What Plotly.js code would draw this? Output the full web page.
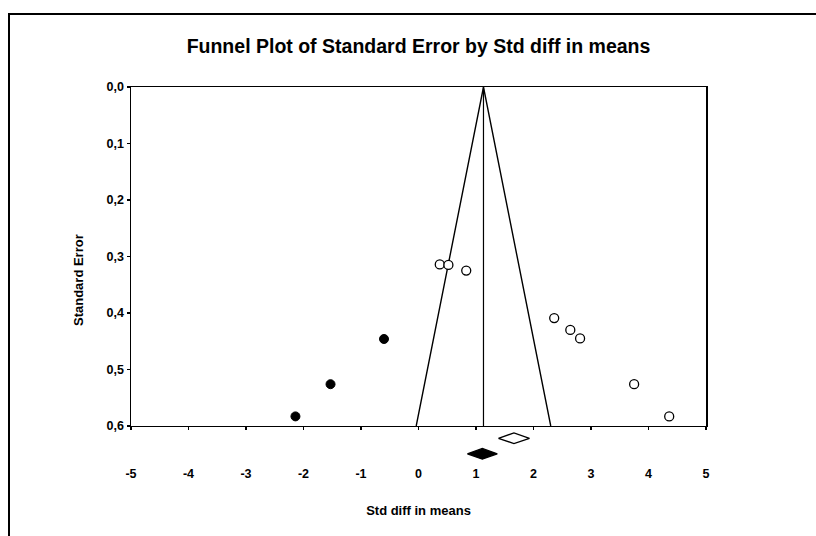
<!DOCTYPE html>
<html>
<head>
<meta charset="utf-8">
<script src="https://cdn.plot.ly/plotly-3.0.1.min.js"></script>
<style>
  html, body { margin: 0; padding: 0; background: #ffffff; }
  #chart { width: 816px; height: 536px; }
</style>
</head>
<body>
<div id="chart"></div>
<script>
// Observed studies (open circles)
const observedEffect = [0.37, 0.52, 0.83, 2.36, 2.64, 2.81, 3.75, 4.36];
const observedSE     = [0.314, 0.315, 0.325, 0.409, 0.430, 0.445, 0.526, 0.583];

// Imputed studies (filled circles, trim-and-fill)
const imputedEffect = [-2.14, -1.53, -0.60];
const imputedSE     = [0.583, 0.526, 0.446];

// Funnel (pseudo 95% limits) and centre line
const funnelX = [-0.04, 1.13, 2.30];
const funnelY = [0.6, 0.0, 0.6];
const centerX = [1.13, 1.13];
const centerY = [0.0, 0.6];

// Summary estimates: observed (open diamond) and adjusted (filled diamond)
const summaryNames = ['Observed', 'Adjusted'];
const summaryEst = [1.66, 1.11];
const summaryLo  = [1.39, 0.85];
const summaryHi  = [1.93, 1.37];
const summaryRow = [0.6225, 0.650];

// Axis ticks
const xTickVals = [-5, -4, -3, -2, -1, 0, 1, 2, 3, 4, 5];
const xTickText = ['-5', '-4', '-3', '-2', '-1', '0', '1', '2', '3', '4', '5'];
const yTickVals = [0.0, 0.1, 0.2, 0.3, 0.4, 0.5, 0.6];
const yTickText = ['0,0', '0,1', '0,2', '0,3', '0,4', '0,5', '0,6'];

const FONT = 'Liberation Sans, Arial, sans-serif';
const HALF_H = 0.0094;

function diamond(i) {
  const r = summaryRow[i];
  return {
    x: [summaryLo[i], summaryEst[i], summaryHi[i], summaryEst[i], summaryLo[i]],
    y: [r, r - HALF_H, r, r + HALF_H, r]
  };
}

const d0 = diamond(0);
const d1 = diamond(1);

const traces = [
  {
    x: funnelX, y: funnelY, type: 'scatter', mode: 'lines',
    line: { color: '#000', width: 1.4 }, xaxis: 'x', yaxis: 'y',
    hoverinfo: 'skip', showlegend: false
  },
  {
    x: centerX, y: centerY, type: 'scatter', mode: 'lines',
    line: { color: '#000', width: 1.2 }, xaxis: 'x', yaxis: 'y',
    hoverinfo: 'skip', showlegend: false
  },
  {
    x: observedEffect, y: observedSE, type: 'scatter', mode: 'markers',
    marker: { symbol: 'circle', size: 9, color: '#fff', line: { color: '#000', width: 1.3 } },
    xaxis: 'x', yaxis: 'y', cliponaxis: false, name: 'Observed', showlegend: false
  },
  {
    x: imputedEffect, y: imputedSE, type: 'scatter', mode: 'markers',
    marker: { symbol: 'circle', size: 9, color: '#000', line: { color: '#000', width: 1 } },
    xaxis: 'x', yaxis: 'y', cliponaxis: false, name: 'Imputed', showlegend: false
  },
  {
    x: d0.x, y: d0.y, type: 'scatter', mode: 'lines', fill: 'toself',
    fillcolor: '#fff', line: { color: '#000', width: 1.3 },
    xaxis: 'x2', yaxis: 'y2', name: summaryNames[0], showlegend: false
  },
  {
    x: d1.x, y: d1.y, type: 'scatter', mode: 'lines', fill: 'toself',
    fillcolor: '#000', line: { color: '#000', width: 1.3 },
    xaxis: 'x2', yaxis: 'y2', name: summaryNames[1], showlegend: false
  }
];

const layout = {
  width: 816,
  height: 536,
  paper_bgcolor: '#fff',
  plot_bgcolor: '#fff',
  margin: { l: 131, r: 110, t: 87, b: 72, pad: 0 },
  showlegend: false,
  font: { family: FONT, color: '#000', size: 13, weight: 'bold' },
  title: {
    text: 'Funnel Plot of Standard Error by Std diff in means',
    font: { family: FONT, size: 19.5, weight: 'bold', color: '#000' },
    xref: 'paper', x: 0.5, xanchor: 'center',
    yref: 'container', y: 1 - 46 / 536, yanchor: 'middle'
  },
  xaxis: {
    domain: [0, 1],
    anchor: 'y',
    range: [-5, 5],
    tickmode: 'array', tickvals: xTickVals, ticktext: xTickText,
    showticklabels: false,
    ticks: 'outside', ticklen: 3, tickwidth: 1.2, tickcolor: '#000',
    showline: true, mirror: true, linecolor: '#000', linewidth: 1.5,
    showgrid: false, zeroline: false
  },
  yaxis: {
    domain: [0.1008, 1],
    anchor: 'x',
    range: [0.6, 0],
    tickmode: 'array', tickvals: yTickVals, ticktext: yTickText,
    ticks: 'outside', ticklen: 3, tickwidth: 1.2, tickcolor: '#000',
    tickfont: { family: FONT, size: 12.5, weight: 'bold', color: '#000' },
    showline: true, mirror: true, linecolor: '#000', linewidth: 1.5,
    showgrid: false, zeroline: false
  },
  xaxis2: {
    matches: 'x',
    anchor: 'y2',
    range: [-5, 5],
    tickmode: 'array', tickvals: xTickVals, ticktext: xTickText,
    showticklabels: true,
    ticks: '',
    tickfont: { family: FONT, size: 12.5, weight: 'bold', color: '#000' },
    showline: false, showgrid: false, zeroline: false,
    title: { text: 'Std diff in means', standoff: 26, font: { family: FONT, size: 13, weight: 'bold', color: '#000' } }
  },
  yaxis2: {
    domain: [0, 0.09],
    anchor: 'x2',
    range: [0.668, 0.608],
    visible: false
  },
  annotations: [
    {
      text: 'Standard Error', textangle: -90,
      xref: 'paper', yref: 'paper',
      x: (78 - 131) / 575, y: (464 - 280) / 377,
      xanchor: 'center', yanchor: 'middle', showarrow: false,
      font: { family: FONT, size: 13, weight: 'bold', color: '#000' }
    }
  ],
  shapes: [
    {
      type: 'rect', xref: 'paper', yref: 'paper',
      x0: (9 - 131) / 575, x1: (840 - 131) / 575,
      y0: (464 - 560) / 377, y1: (464 - 14) / 377,
      line: { color: '#000', width: 2 }, fillcolor: 'rgba(0,0,0,0)', layer: 'below'
    }
  ]
};

Plotly.newPlot('chart', traces, layout, { displayModeBar: false, staticPlot: true });
</script>
</body>
</html>
